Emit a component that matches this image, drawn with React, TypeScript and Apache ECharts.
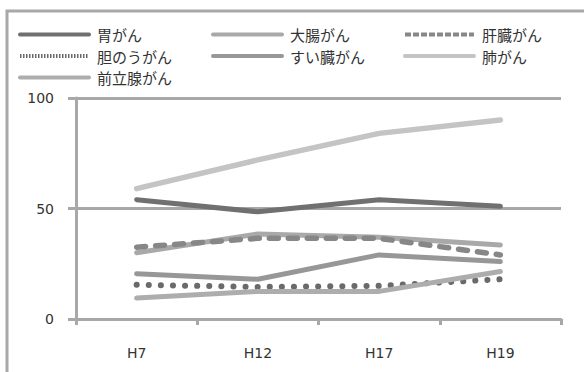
import React, { useEffect, useRef } from "react";
import * as echarts from "echarts";

// Survey years (Heisei)
const years = ["H7", "H12", "H17", "H19"];

// Rates by cancer site
const stomach = [54, 48.5, 54, 51];
const colon = [30, 38.5, 37, 33.5];
const liver = [32.5, 36.5, 36.5, 29];
const gallbladder = [15.5, 14.5, 15, 18];
const pancreas = [20.5, 18, 29, 26];
const lung = [59, 72, 84, 90];
const prostate = [9.5, 12.5, 12.5, 21.5];

const yTicks = [0, 50, 100];

const names = {
  stomach: "胃がん",
  colon: "大腸がん",
  liver: "肝臓がん",
  gallbladder: "胆のうがん",
  pancreas: "すい臓がん",
  lung: "肺がん",
  prostate: "前立腺がん",
};

const AXIS_GRAY = "#a8a8a8";
const TEXT = "#333333";
const JP_FONT = "'Noto Sans CJK JP', 'Noto Sans', sans-serif";
const NUM_FONT = "'DejaVu Sans', sans-serif";

export default function App() {
  const ref = useRef<HTMLDivElement>(null);

  useEffect(() => {
    if (!ref.current) return;
    const chart = echarts.init(ref.current, null, { renderer: "svg" });

    const line = (name: string, data: number[], color: string, type: any = "solid", width = 5) => ({
      name,
      type: "line",
      data,
      symbol: "none",
      lineStyle: { color, width, type, cap: "round", join: "round" },
      itemStyle: { color },
      z: 3,
    });

    const legendBase = {
      orient: "vertical" as const,
      top: 27,
      itemWidth: 69,
      itemHeight: 14,
      itemGap: 6.5,
      padding: 0,
      // line-only keys: hide the marker drawn in the middle of each key
      itemStyle: { opacity: 0 },
      lineStyle: { width: 4, type: "inherit", color: "inherit", cap: "round" },
      textStyle: { fontFamily: JP_FONT, fontSize: 15, color: TEXT, padding: [0, 0, 0, 3] },
    };

    // finer dash patterns for the short legend keys
    const dottedKey = { name: names.gallbladder, lineStyle: { type: [1.5, 1.5], cap: "butt", width: 4 } };
    const dashedKey = { name: names.liver, lineStyle: { type: [6, 2], cap: "butt", width: 4 } };

    chart.setOption({
      animation: false,
      backgroundColor: "#ffffff",
      graphic: [
        {
          type: "rect",
          shape: { x: 7, y: 11, width: 700, height: 500 },
          style: { fill: "none", stroke: AXIS_GRAY, lineWidth: 3 },
          silent: true,
          z: 0,
        },
      ],
      legend: [
        { ...legendBase, left: 18, data: [names.stomach, dottedKey, names.prostate] },
        { ...legendBase, left: 211, data: [names.colon, names.pancreas] },
        { ...legendBase, left: 403, data: [dashedKey, names.lung] },
      ],
      grid: { left: 76, right: 23, top: 98, bottom: 53 },
      xAxis: {
        type: "category",
        data: years,
        boundaryGap: true,
        axisLine: { lineStyle: { color: AXIS_GRAY, width: 3 } },
        axisTick: { show: true, length: 6, lineStyle: { color: AXIS_GRAY, width: 3 } },
        axisLabel: { fontFamily: NUM_FONT, fontSize: 14, color: TEXT, margin: 27 },
      },
      yAxis: {
        type: "value",
        min: yTicks[0],
        max: yTicks[yTicks.length - 1],
        interval: yTicks[1] - yTicks[0],
        axisLine: { show: true, lineStyle: { color: AXIS_GRAY, width: 3 } },
        axisTick: { show: true, length: 8, lineStyle: { color: AXIS_GRAY, width: 3 } },
        splitLine: { show: true, lineStyle: { color: AXIS_GRAY, width: 3 } },
        axisLabel: { fontFamily: NUM_FONT, fontSize: 14, color: TEXT, margin: 22 },
      },
      series: [
        line(names.stomach, stomach, "#707070"),
        line(names.colon, colon, "#a9a9a9"),
        line(names.liver, liver, "#878787", [9, 10], 5.5),
        line(names.gallbladder, gallbladder, "#6a6a6a", [0.1, 12], 6),
        line(names.pancreas, pancreas, "#979797"),
        line(names.lung, lung, "#c4c4c4", "solid", 5.5),
        line(names.prostate, prostate, "#adadad"),
      ],
    });

    return () => chart.dispose();
  }, []);

  return (
    <div
      ref={ref}
      style={{ position: "absolute", left: 0, top: 0, width: 584, height: 372 }}
    />
  );
}
